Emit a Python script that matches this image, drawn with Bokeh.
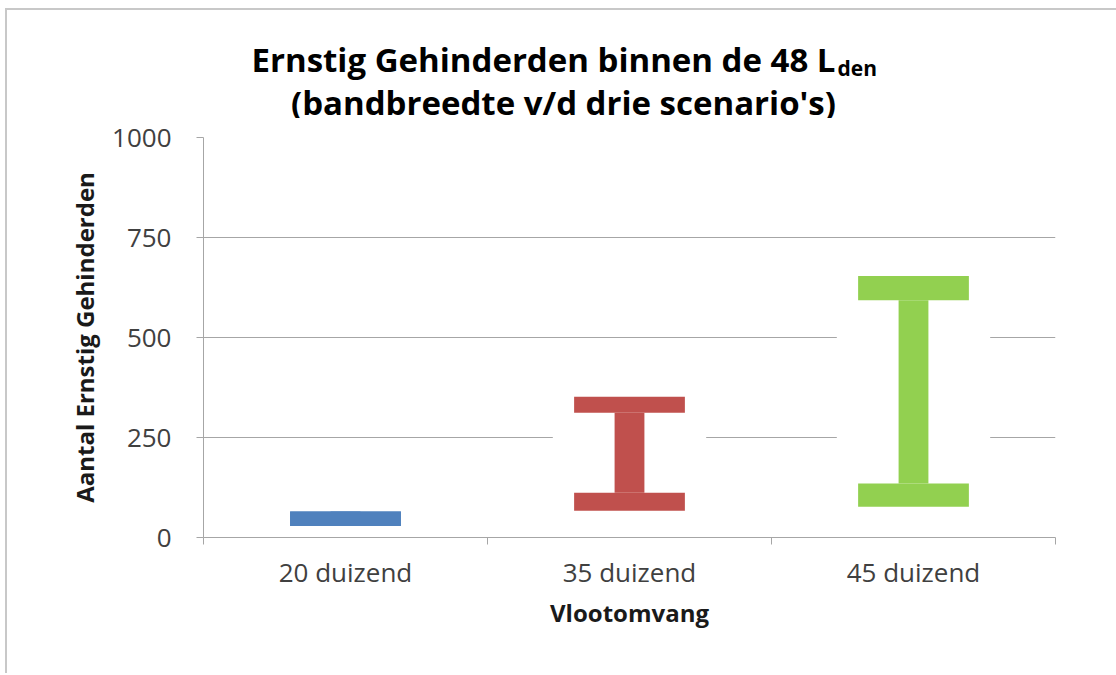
from bokeh.plotting import figure
from bokeh.layouts import column
from bokeh.models import FixedTicker, Range1d, ColumnDataSource
from bokeh.core.properties import value
from bokeh.embed import file_html
from bokeh.resources import INLINE

# ---- data ----
categories = ["20 duizend", "35 duizend", "45 duizend"]
low = [29, 67, 77]                 # bottom of range (bottom of lower cap)
low_cap_top = [65, 112, 135]       # top of lower cap
high_cap_bottom = [29, 312, 593]   # bottom of upper cap
high = [65, 352, 654]              # top of range (top of upper cap)
y_ticks = [0, 250, 500, 750, 1000]

title_main = "Ernstig Gehinderden binnen de 48 L"
title_sub = "den"
title_line2 = "(bandbreedte v/d drie scenario's)"

colors = ["#4F81BD", "#C0504D", "#92D050"]
FONT = "Open Sans"
OFF_X = 7         # left margin (5) + border (2) of the layout box
OFF_Y = 10        # top margin (8) + border (2) of the layout box
W = 1116 - OFF_X
FL, FR = 203 - OFF_X, 1055 - OFF_X   # frame edges inside the figures
MAIN_TOP = 19
TH = 137 - MAIN_TOP - OFF_Y
MAIN_H = 673 - OFF_Y - TH

# ---------------- title strip ----------------
tf = figure(width=W, height=TH, output_backend="svg", toolbar_location=None,
            x_range=Range1d(FL + OFF_X, FR + OFF_X), y_range=Range1d(TH + OFF_Y, OFF_Y),
            x_axis_location=None, y_axis_location=None,
            min_border_left=FL, min_border_right=W - FR,
            min_border_top=0, min_border_bottom=0)
tf.grid.visible = False
tf.outline_line_color = None
tf.border_fill_color = "white"
tf.background_fill_color = "white"
tf.text(x=[835], y=[59], text=[title_main], text_align="right",
        text_baseline="alphabetic", text_font=value(FONT), text_font_size="33px",
        text_font_style="bold", text_color="#000000")
tf.text(x=[837], y=[67], text=[title_sub], text_align="left",
        text_baseline="alphabetic", text_font=value(FONT), text_font_size="21px",
        text_font_style="bold", text_color="#000000")
tf.text(x=[563], y=[102], text=[title_line2], text_align="center",
        text_baseline="alphabetic", text_font=value(FONT), text_font_size="33px",
        text_font_style="bold", text_color="#000000")

# ---------------- main chart ----------------
xc = [i + 0.5 for i in range(len(categories))]
src = ColumnDataSource(dict(x=xc, low=low, lct=low_cap_top, hcb=high_cap_bottom,
                            high=high, color=colors))

p = figure(width=W, height=MAIN_H, output_backend="svg", toolbar_location=None,
           x_range=Range1d(0, len(categories)), y_range=Range1d(0, 1000),
           min_border_left=FL, min_border_right=W - FR, min_border_top=MAIN_TOP,
           min_border_bottom=MAIN_H - MAIN_TOP - 400)
p.outline_line_color = None
p.background_fill_color = "white"
p.border_fill_color = "white"

p.xgrid.visible = False
p.ygrid.ticker = FixedTicker(ticks=y_ticks[1:])
p.ygrid.grid_line_color = "#a6a6a6"
p.ygrid.grid_line_width = 1

# white halo that hides the gridlines around each shape
p.vbar(x="x", width=0.54, bottom="low", top="high", source=src,
       fill_color="white", line_color=None)
# stem
p.vbar(x="x", width=0.105, bottom="lct", top="hcb", source=src,
       fill_color="color", line_color=None)
# lower cap
p.vbar(x="x", width=0.39, bottom="low", top="lct", source=src,
       fill_color="color", line_color=None)
# upper cap
p.vbar(x="x", width=0.39, bottom="hcb", top="high", source=src,
       fill_color="color", line_color=None)

ya = p.yaxis[0]
ya.ticker = FixedTicker(ticks=y_ticks)
ya.axis_line_color = "#a6a6a6"
ya.major_tick_line_color = "#a6a6a6"
ya.major_tick_out = 7
ya.major_tick_in = 0
ya.minor_tick_line_color = None
ya.major_label_text_font = FONT
ya.major_label_text_font_size = "26px"
ya.major_label_text_color = "#404040"
ya.major_label_standoff = 25
ya.axis_label = "Aantal Ernstig Gehinderden"
ya.axis_label_text_font = FONT
ya.axis_label_text_font_size = "24px"
ya.axis_label_text_font_style = "bold"
ya.axis_label_text_color = "#1a1a1a"
ya.axis_label_standoff = 8

xa = p.xaxis[0]
xa.ticker = FixedTicker(ticks=xc, minor_ticks=list(range(len(categories) + 1)))
xa.major_label_overrides = {x: c for x, c in zip(xc, categories)}
xa.axis_line_color = "#a6a6a6"
xa.major_tick_out = 0
xa.major_tick_in = 0
xa.major_tick_line_color = None
xa.minor_tick_line_color = "#a6a6a6"
xa.minor_tick_out = 7
xa.minor_tick_in = 0
xa.major_label_text_font = FONT
xa.major_label_text_font_size = "26px"
xa.major_label_text_color = "#404040"
xa.major_label_standoff = 9
xa.axis_label = "Vlootomvang"
xa.axis_label_text_font = FONT
xa.axis_label_text_font_size = "24px"
xa.axis_label_text_font_style = "bold"
xa.axis_label_text_color = "#1a1a1a"
xa.axis_label_standoff = 3

layout = column(tf, p, spacing=0,
                styles={"border-top": "2px solid #c8c8c8",
                        "border-left": "2px solid #c8c8c8",
                        "margin-top": "8px", "margin-left": "5px"})
open("out.html", "w").write(file_html(layout, INLINE))
